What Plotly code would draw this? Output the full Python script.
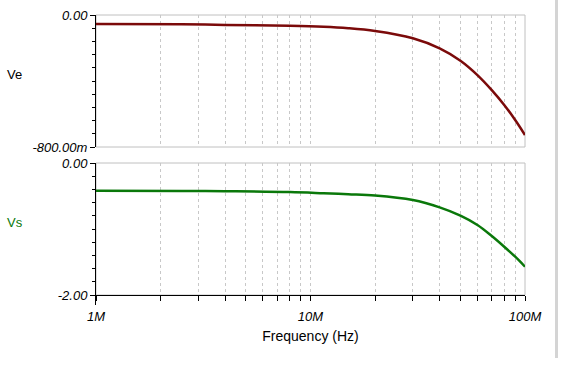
import plotly.graph_objects as go
from plotly.subplots import make_subplots

# Data (frequency in Hz, voltages in V)
freq_mhz = [1, 2.5, 4, 8, 11.5, 15, 20, 30, 40, 50, 60, 70, 80, 90, 100]
ve = [-0.055, -0.056, -0.060, -0.065, -0.071, -0.080, -0.097, -0.141, -0.202,
      -0.277, -0.364, -0.455, -0.545, -0.636, -0.727]
vs = [-0.420, -0.424, -0.428, -0.440, -0.458, -0.473, -0.492, -0.561, -0.672,
      -0.798, -0.939, -1.106, -1.268, -1.420, -1.571]
freq = [f * 1e6 for f in freq_mhz]

x_tickvals = [m * 10 ** e for e in (6, 7) for m in range(1, 10)] + [1e8]
x_ticktext = ["1M"] + [""] * 8 + ["10M"] + [""] * 8 + ["100M"]

W, H = 563, 371
xl, xr = 96, 525
top_t, top_b = 15, 147
bot_t, bot_b = 163, 295

FONT = "Liberation Sans, Arial, sans-serif"
GRID = "#c8c8c8"
FRAME = "#c0c0c0"

fig = make_subplots(rows=2, cols=1, shared_xaxes=False)

fig.add_trace(go.Scatter(x=freq, y=ve, mode="lines", line=dict(color="#7b0a0a", width=2.5, shape="spline"),
                         showlegend=False, hoverinfo="skip"), row=1, col=1)
fig.add_trace(go.Scatter(x=freq, y=vs, mode="lines", line=dict(color="#0a780a", width=2.5, shape="spline"),
                         showlegend=False, hoverinfo="skip"), row=2, col=1)

xdom = [xl / W, xr / W]
common_x = dict(type="log", range=[6, 8], domain=xdom, tickmode="array", tickvals=x_tickvals,
                showgrid=True, gridcolor=GRID, griddash="3px,3px", gridwidth=1, zeroline=False,
                automargin=False)
fig.update_layout(
    xaxis=dict(**common_x, ticktext=[""] * len(x_tickvals), ticks="", showline=False, showticklabels=False),
    xaxis2=dict(**common_x, ticktext=x_ticktext, ticks="outside", ticklen=5, tickcolor="black",
                showline=True, linecolor="black", linewidth=1, ticklabelstandoff=4,
                tickfont=dict(family=FONT, size=13, color="black", style="italic"),
                title=dict(text="Frequency (Hz)", font=dict(family=FONT, size=14, color="black"), standoff=8)),
    yaxis=dict(domain=[(H - top_b) / H, (H - top_t) / H], range=[-0.8, 0], tickmode="array",
               tickvals=[0, -0.8], ticktext=["0.00", "-800.00m"], ticks="outside", ticklen=5, tickcolor="black",
               showline=True, linecolor="black", linewidth=1, showgrid=False, zeroline=False, automargin=False,
               tickfont=dict(family=FONT, size=13, color="black", style="italic"),
               minor=dict(tickmode="linear", tick0=0, dtick=0.08, ticks="outside", ticklen=3, tickcolor="black", showgrid=False)),
    yaxis2=dict(domain=[(H - bot_b) / H, (H - bot_t) / H], range=[-2, 0], tickmode="array",
                tickvals=[0, -2], ticktext=["0.00", "-2.00"], ticks="outside", ticklen=5, tickcolor="black",
                showline=True, linecolor="black", linewidth=1, showgrid=False, zeroline=False, automargin=False,
                tickfont=dict(family=FONT, size=13, color="black", style="italic"),
                minor=dict(tickmode="linear", tick0=0, dtick=0.2, ticks="outside", ticklen=3, tickcolor="black", showgrid=False)),
    width=W, height=H, margin=dict(l=0, r=0, t=0, b=0, autoexpand=False),
    paper_bgcolor="white", plot_bgcolor="white",
    shapes=[
        dict(type="rect", xref="x domain", yref="y domain", x0=0, x1=1, y0=0, y1=1,
             line=dict(color=FRAME, width=1), layer="below"),
        dict(type="rect", xref="x2 domain", yref="y2 domain", x0=0, x1=1, y0=0, y1=1,
             line=dict(color=FRAME, width=1), layer="below"),
        dict(type="line", xref="paper", yref="paper", x0=(xl - 0.5) / W, x1=(xl - 0.5) / W,
             y0=(H - bot_b) / H, y1=(H - bot_b - 10) / H, line=dict(color="black", width=1)),
        dict(type="rect", xref="paper", yref="paper", x0=555 / W, x1=558 / W, y0=(H - 358) / H, y1=1,
             line=dict(width=0), fillcolor="#d4d4d4"),
    ],
    annotations=[
        dict(text="Ve", xref="paper", yref="paper", x=5 / W, y=(H - 75) / H, xanchor="left", yanchor="middle",
             showarrow=False, font=dict(family=FONT, size=13, color="black")),
        dict(text="Vs", xref="paper", yref="paper", x=5 / W, y=(H - 223) / H, xanchor="left", yanchor="middle",
             showarrow=False, font=dict(family=FONT, size=13, color="#0a780a")),
    ],
)

fig.write_html("out.html", config={"displayModeBar": False, "staticPlot": True},
               post_script="document.body.style.margin='0';document.body.style.overflow='hidden';")
